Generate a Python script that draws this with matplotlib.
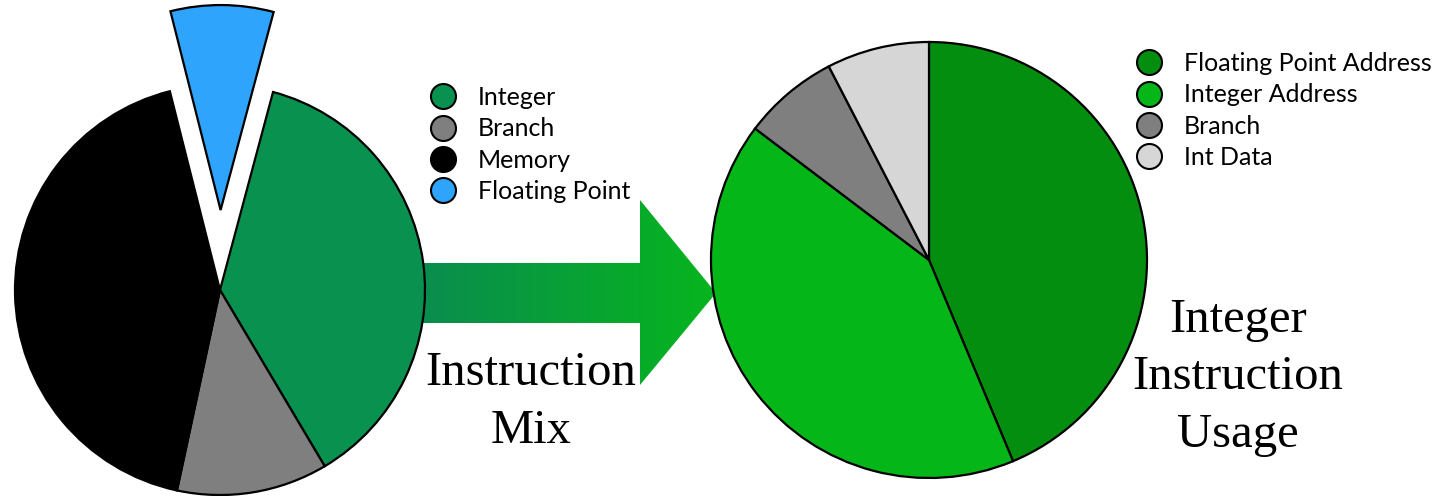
import matplotlib

matplotlib.use("Agg")
import matplotlib.pyplot as plt
import numpy as np
from matplotlib.colors import LinearSegmentedColormap
from matplotlib.lines import Line2D
from matplotlib.patches import Polygon

# Instruction mix (left pie), clockwise from the top-right
mix_labels = ["Integer", "Branch", "Memory", "Floating Point"]
mix_values = [37.3, 11.9, 42.7, 8.1]
mix_colors = ["#099150", "#7f7f7f", "#000000", "#2ea4fc"]
mix_explode = [0, 0, 0, 0.39]

# Integer instruction usage (right pie), clockwise from 12 o'clock
use_labels = ["Floating Point Address", "Integer Address", "Branch", "Int Data"]
use_values = [43.7, 41.6, 7.1, 7.6]
use_colors = ["#048e0f", "#05b619", "#7f7f7f", "#d6d6d6"]

W, H = 1439, 496
fig = plt.figure(figsize=(W / 100, H / 100), dpi=100)
ax = fig.add_axes([0, 0, 1, 1])

wp = dict(edgecolor="black", linewidth=1.6)

# gradient arrow between the two pies (drawn underneath)
arrow_pts = [(400, 173), (640, 173), (640, 111), (716, 203),
             (640, 296), (640, 233), (400, 233)]
arrow = Polygon(arrow_pts, closed=True, facecolor="none", edgecolor="none")
ax.add_patch(arrow)
cmap = LinearSegmentedColormap.from_list("arr", ["#0a8a52", "#06b51d"])
grad = np.linspace(0, 1, 256).reshape(1, -1)
im = ax.imshow(grad, cmap=cmap, extent=[400, 716, 111, 296], aspect="auto",
               origin="lower", zorder=0.5)
im.set_clip_path(arrow)

r_mix, r_use = 205, 218
# pie explode is in data units, so scale by the radius
ax.pie(mix_values, colors=mix_colors,
       explode=[e * r_mix for e in mix_explode], startangle=75,
       counterclock=False, center=(220, 206), radius=r_mix, wedgeprops=wp,
       frame=True)
ax.pie(use_values, colors=use_colors, startangle=90, counterclock=False,
       center=(929, 236), radius=r_use, wedgeprops=wp, frame=True)
ax.set_xlim(0, W)
ax.set_ylim(0, H)
ax.set_aspect("equal")
ax.axis("off")


def handles(colors):
    return [Line2D([], [], ls="", marker="o", markersize=18,
                   markerfacecolor=c, markeredgecolor="black",
                   markeredgewidth=1.5) for c in colors]


leg_kw = dict(loc="upper left", frameon=False, handlelength=1.0,
              handletextpad=0.9, labelspacing=0.33, borderpad=0,
              borderaxespad=0, prop={"family": "Lato", "size": 18},
              bbox_transform=ax.transData)
leg1 = ax.legend(handles(mix_colors), mix_labels,
                 bbox_to_anchor=(430.5, H - 86), **leg_kw)
ax.add_artist(leg1)
ax.legend(handles(use_colors), use_labels,
          bbox_to_anchor=(1136.5, H - 52), **leg_kw)

serif = {"family": "Liberation Serif", "size": 35}
ax.text(531, H - 443, "Instruction\nMix", ha="center", va="baseline",
        linespacing=1.4, fontdict=serif)
ax.text(1238, H - 447, "Integer\nInstruction\nUsage", ha="center",
        va="baseline", linespacing=1.4, fontdict=serif)

fig.savefig("out.png", dpi=100, facecolor="white")
